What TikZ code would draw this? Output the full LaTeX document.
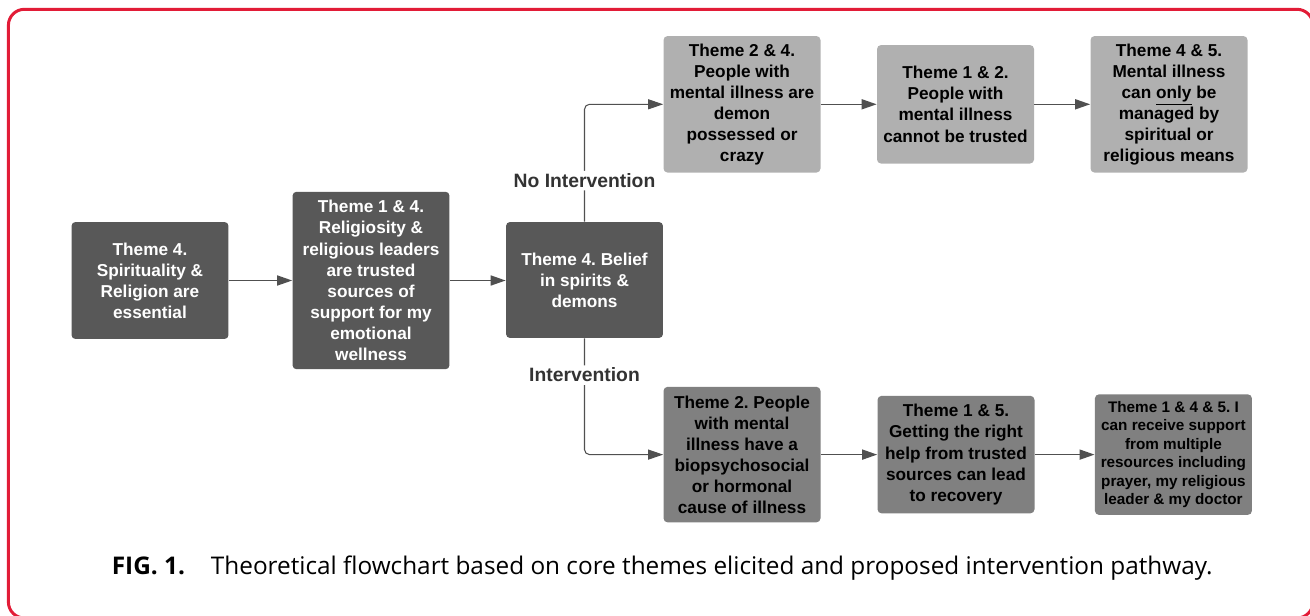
\documentclass[tikz,border=0pt]{standalone}
\usepackage{fontspec}
\setmainfont{Liberation Sans}
\newfontfamily\capfont{Open Sans}
\usetikzlibrary{arrows.meta}
\frenchspacing

\definecolor{framered}{RGB}{226,28,55}
\definecolor{darkbox}{RGB}{88,88,88}
\definecolor{lightbox}{RGB}{176,176,176}
\definecolor{midbox}{RGB}{128,128,128}
\definecolor{linegray}{RGB}{80,80,80}

\tikzset{
  theme/.style={rounded corners=0.08cm, align=center, inner sep=0pt, minimum width=3.14cm,
                font=\fontsize{9.8}{12}\selectfont\bfseries},
  darktheme/.style={theme, fill=darkbox, text=white},
  lighttheme/.style={theme, fill=lightbox, text=black},
  midtheme/.style={theme, fill=midbox, text=black},
  flow/.style={draw=linegray, line width=0.9pt, -{Triangle[length=0.3cm,width=0.2cm]}},
  branch/.style={flow, line width=0.6pt, rounded corners=0.1cm},
  pathlabel/.style={fill=white, text=black!80, inner sep=1.5pt,
                    font=\fontsize{11}{13}\selectfont\bfseries}
}

\begin{document}
\begin{tikzpicture}[x=0.02cm, y=-0.02cm]

                  \useasboundingbox (0,0) rectangle (1310,615);
                  \draw[framered, line width=1.7pt, rounded corners=0.32cm] (8.4,9.3) rectangle (1313,618);

                  % main line
                  \node[darktheme, minimum height=2.34cm] (spirit) at (150,280.5)
                        {Theme 4.\\ Spirituality \&\\ Religion are\\ essential};
                  \node[darktheme, minimum height=3.55cm] (leaders) at (371,280.5)
                        {Theme 1 \& 4.\\ Religiosity \&\\ religious leaders\\ are trusted\\ sources of\\ support for my\\ emotional\\ wellness};
                  \node[darktheme, minimum height=2.32cm] (belief) at (584.5,280)
                        {Theme 4. Belief\\ in spirits \&\\ demons};

                  % no intervention
                  \node[lighttheme, minimum height=2.73cm] (demon) at (742,104.3)
                        {Theme 2 \& 4.\\ People with\\ mental illness are\\ demon\\ possessed or\\ crazy};
                  \node[lighttheme, minimum height=2.37cm] (trust) at (955.5,104.3)
                        {Theme 1 \& 2.\\ People with\\ mental illness\\ cannot be trusted};
                  \node[lighttheme, minimum height=2.73cm] (means) at (1169,104.3)
                        {Theme 4 \& 5.\\ Mental illness\\ can \underline{only} be\\ managed by\\ spiritual or\\ religious means};

                  % intervention
                  \node[midtheme, minimum height=2.71cm] (cause) at (742,454.6)
                        {Theme 2. People\\ with mental\\ illness have a\\ biopsychosocial\\ or hormonal\\ cause of illness};
                  \node[midtheme, minimum height=2.35cm] (help) at (956,454.6)
                        {Theme 1 \& 5.\\ Getting the right\\ help from trusted\\ sources can lead\\ to recovery};
                  \node[midtheme, minimum height=2.41cm, font=\fontsize{8.7}{10.5}\selectfont\bfseries] (support) at (1173.4,454.6)
                        {Theme 1 \& 4 \& 5. I\\ can receive support\\ from multiple\\ resources including\\ prayer, my religious\\ leader \& my doctor};

                  \draw[flow] (spirit.east) -- (spirit.east -| leaders.west);
                  \draw[flow] (leaders.east) -- (leaders.east -| belief.west);
                  \draw[flow] (demon.east) -- (trust.west);
                  \draw[flow] (trust.east) -- (means.west);
                  \draw[flow] (cause.east) -- (help.west);
                  \draw[flow] (help.east) -- (support.west);

                  \draw[branch] (belief.north) |- node[pathlabel, pos=0.175] (nolabel) {No Intervention} (demon.west);
                  \draw[branch] (belief.south) |- node[pathlabel, pos=0.158] (yeslabel) {Intervention} (cause.west);

                  \node[anchor=base west, inner sep=0pt, font=\capfont\fontsize{13.85}{16}\selectfont] (caption) at (111.5,574)
                        {\textbf{FIG. 1.}\hspace{0.52cm}Theoretical flowchart based on core themes elicited and proposed intervention pathway.};

              \end{tikzpicture}
\end{document}
